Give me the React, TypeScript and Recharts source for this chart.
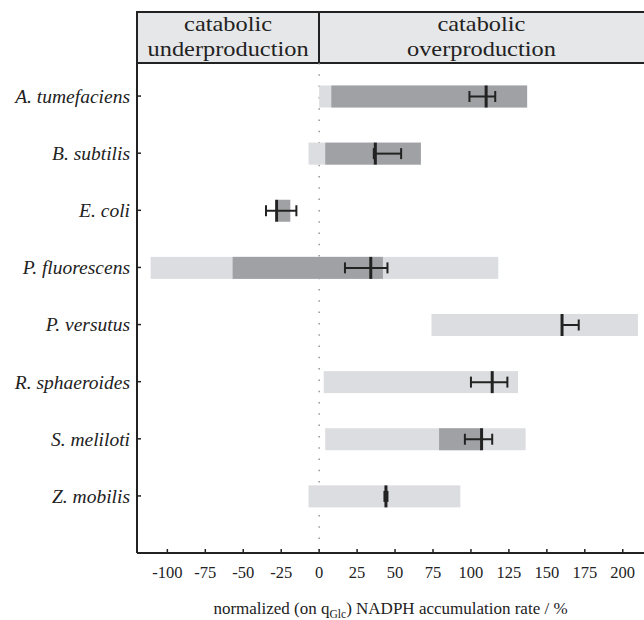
import React from 'react';
import { ComposedChart, Bar, XAxis, YAxis, CartesianGrid } from 'recharts';

// values (normalized NADPH accumulation rate, %)
const species = ['A. tumefaciens', 'B. subtilis', 'E. coli', 'P. fluorescens', 'P. versutus', 'R. sphaeroides', 'S. meliloti', 'Z. mobilis'];
const lightLo = [0, -7, null, -111, 74, 3, 4, -7];
const lightHi = [137, 67, null, 118, 210, 131, 136, 93];
const darkLo = [8, 4, -27, -57, null, null, 79, null];
const darkHi = [137, 67, -19, 42, null, null, 107, null];
const median = [110, 37, -28, 34, 160, 114, 107, 44];
const errLo = [99, 36, -35, 17, 160, 100, 96, 43];
const errHi = [116, 54, -15, 45, 171, 124, 114, 45];
const xTicks = [-100, -75, -50, -25, 0, 25, 50, 75, 100, 125, 150, 175, 200];

const X_MIN = -120;
const X_MAX = 214;

const data = species.map((name, i) => ({
  name,
  light: lightLo[i] == null ? null : [lightLo[i], lightHi[i]],
  dark: darkLo[i] == null ? null : [darkLo[i], darkHi[i]],
  err: [errLo[i], errHi[i]],
  mid: median[i],
  lo: errLo[i],
  hi: errHi[i],
}));

const INK = '#222';
const FONT = '"Liberation Serif", "Times New Roman", serif';

const RangeShape = (fill: string, key: 'light' | 'dark') => (props: any) => {
  const { x, y, width, height, payload } = props;
  if (!payload || payload[key] == null || !(width > 0)) return <g />;
  return <rect x={x} y={y} width={width} height={height} fill={fill} />;
};

const ErrShape = (props: any) => {
  const { x, y, width, height, payload } = props;
  if (!payload) return <g />;
  const span = payload.hi - payload.lo;
  const mx = span > 0 ? x + (width * (payload.mid - payload.lo)) / span : x;
  const cy = y + height / 2;
  const x2 = x + width;
  return (
    <g stroke={INK} fill="none">
      <line x1={x} x2={x2} y1={cy} y2={cy} strokeWidth={2} />
      <line x1={x} x2={x} y1={cy - 5.5} y2={cy + 5.5} strokeWidth={2} />
      <line x1={x2} x2={x2} y1={cy - 5.5} y2={cy + 5.5} strokeWidth={2} />
      <line x1={mx} x2={mx} y1={y} y2={y + height} strokeWidth={3} />
    </g>
  );
};

const YTick = (props: any) => {
  const { x, y, payload } = props;
  return (
    <g>
      <line x1={x} x2={x + 4} y1={y} y2={y} stroke={INK} strokeWidth={1.5} />
      <text x={x - 7} y={y} dy="0.35em" textAnchor="end" fontFamily={FONT} fontStyle="italic" fontSize={19.5} fill={INK}>
        {payload.value}
      </text>
    </g>
  );
};

const XTick = (props: any) => {
  const { x, y, payload } = props;
  return (
    <g>
      <line x1={x} x2={x} y1={y} y2={y - 4} stroke={INK} strokeWidth={1.5} />
      <text x={x} y={y + 25} textAnchor="middle" fontFamily={FONT} fontSize={16.5} fill={INK}>
        {payload.value}
      </text>
    </g>
  );
};

const W = 644;
const H = 620;
const LEFT = 137;
const TOP = 63;
const BOTTOM = 67;
const plotW = W - LEFT;
const zeroX = LEFT + ((0 - X_MIN) / (X_MAX - X_MIN)) * plotW;

const headText: React.CSSProperties = {
  position: 'absolute',
  top: 12,
  fontFamily: FONT,
  fontSize: 21,
  lineHeight: '25px',
  color: INK,
  textAlign: 'center',
  whiteSpace: 'nowrap',
  transform: 'scaleX(1.16)',
  transformOrigin: 'center',
};

export default function App() {
  return (
    <div style={{ position: 'fixed', left: 0, top: 0, width: W, height: H, overflow: 'hidden', background: '#fff' }}>
      <div style={{ position: 'absolute', left: LEFT - 1, top: 11, width: W, height: 53, boxSizing: 'border-box', border: `2px solid ${INK}`, background: '#e6e7e9' }} />
      <div style={{ position: 'absolute', left: zeroX - 1, top: 11, width: 2, height: 53, background: INK }} />
      <div style={{ ...headText, left: LEFT, width: zeroX - LEFT }}>catabolic<br />underproduction</div>
      <div style={{ ...headText, left: zeroX, width: W - zeroX }}>catabolic<br />overproduction</div>

      <div style={{ position: 'absolute', top: 0, left: 0 }}>
        <ComposedChart
          width={W}
          height={H}
          data={data}
          layout="vertical"
          margin={{ top: TOP, right: 0, bottom: 0, left: 0 }}
          barSize={22}
          barGap={-22}
        >
          <CartesianGrid horizontal={false} verticalValues={[0]} stroke="#888" strokeWidth={1.3} strokeDasharray="1.5 9.8" />
          <XAxis
            type="number"
            domain={[X_MIN, X_MAX]}
            ticks={xTicks}
            allowDataOverflow
            axisLine={{ stroke: INK, strokeWidth: 2 }}
            tickLine={false}
            tickSize={0}
            tickMargin={0}
            tick={<XTick />}
            height={BOTTOM}
            interval={0}
          />
          <YAxis
            type="category"
            dataKey="name"
            width={LEFT}
            padding={{ top: 4.5, bottom: 28.5 }}
            axisLine={{ stroke: INK, strokeWidth: 2 }}
            tickLine={false}
            tickSize={0}
            tickMargin={0}
            tick={<YTick />}
            interval={0}
          />
          <Bar dataKey="light" isAnimationActive={false} shape={RangeShape('#dcdde0', 'light')} />
          <Bar dataKey="dark" isAnimationActive={false} shape={RangeShape('#a0a1a4', 'dark')} />
          <Bar dataKey="err" isAnimationActive={false} shape={ErrShape} />
        </ComposedChart>
      </div>

      <div style={{ position: 'absolute', left: LEFT, width: plotW, top: 600, textAlign: 'center', fontFamily: FONT, fontSize: 17, lineHeight: '18px', color: INK, whiteSpace: 'nowrap' }}>
        normalized (on q<sub style={{ fontSize: 11.5, verticalAlign: '-4px', lineHeight: 0 }}>Glc</sub>) NADPH accumulation rate / %
      </div>
    </div>
  );
}
